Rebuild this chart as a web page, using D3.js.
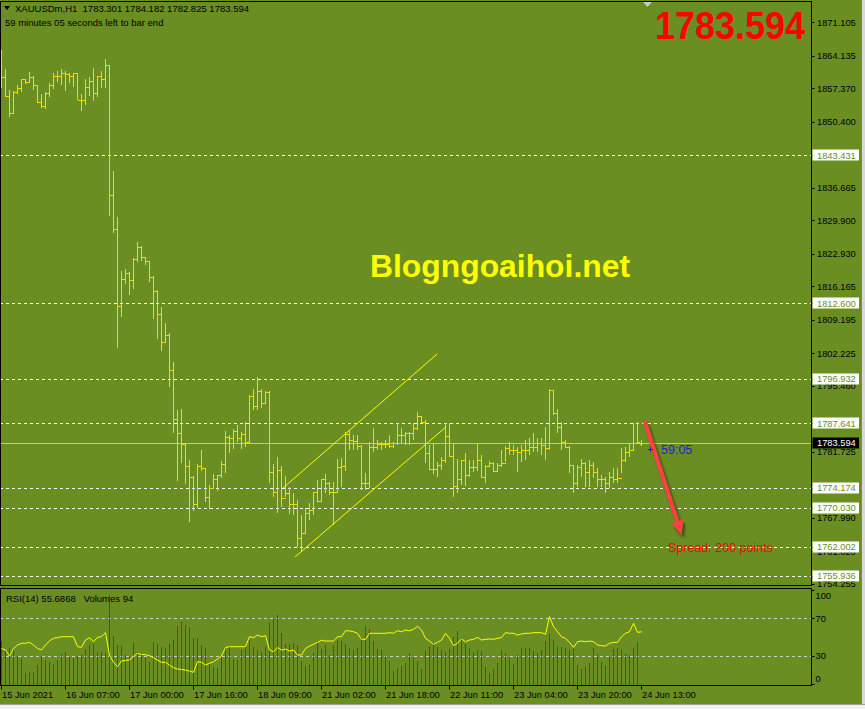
<!DOCTYPE html>
<html><head><meta charset="utf-8">
<script src="https://cdn.jsdelivr.net/npm/d3@7"></script>
<style>html,body{margin:0;padding:0;background:#6b8e23;overflow:hidden}</style>
</head><body><svg id="c" width="865" height="709"></svg>
<script>
// ---------------- DATA ----------------
const headerLine1 = "XAUUSDm,H1  1783.301 1784.182 1782.825 1783.594";
const headerLine2 = "59 minutes 05 seconds left to bar end";
const bigPrice = "1783.594";
const watermark = "Blogngoaihoi.net";
const timerText = "59:05";
const spreadText = "Spread: 200 points";
const rsiHeader = "RSI(14) 55.6868   Volumes 94";

const opens = [1862.00,1859.66,1855.71,1852.23,1856.60,1857.37,1859.25,1858.75,1859.66,1858.00,
1854.46,1853.63,1856.40,1858.00,1859.93,1859.93,1860.50,1860.29,1859.93,1860.50,
1855.00,1854.88,1857.58,1858.83,1856.40,1859.93,1859.25,1862.16,1835.11,1828.10,
1812.07,1817.63,1818.88,1817.42,1821.85,1824.29,1822.21,1821.37,1818.17,1815.13,
1810.34,1804.64,1806.04,1798.69,1788.49,1785.58,1783.31,1778.77,1776.38,1770.80,
1778.77,1778.30,1772.39,1774.13,1776.07,1776.90,1779.19,1784.75,1784.54,1786.12,
1784.54,1785.43,1783.83,1793.40,1791.32,1794.44,1791.82,1794.17,1777.46,1773.30,
1778.01,1772.12,1773.09,1770.87,1770.87,1763.79,1764.77,1768.93,1769.62,1773.30,
1771.55,1776.07,1775.17,1773.43,1773.43,1778.57,1778.67,1785.43,1784.19,1784.04,
1783.00,1775.17,1775.17,1782.73,1782.79,1783.29,1783.29,1783.29,1783.00,1783.50,
1785.23,1785.23,1785.58,1785.58,1786.62,1789.18,1787.99,1781.42,1778.09,1778.09,
1778.98,1780.02,1785.02,1780.86,1774.61,1776.01,1780.02,1776.90,1778.50,1778.50,
1780.02,1776.42,1778.77,1779.34,1777.80,1778.98,1779.34,1782.46,1782.10,1782.10,
1781.75,1782.10,1782.10,1782.79,1782.79,1783.50,1783.15,1782.46,1794.59,1789.74,
1786.95,1783.83,1782.79,1778.98,1775.30,1778.63,1779.46,1777.59,1778.98,1777.59,
1776.01,1776.01,1775.17,1776.55,1776.11,1776.25,1780.02,1781.75,1782.10,1783.50,
1783.301];
const highs = [1865.34,1861.39,1857.02,1856.81,1858.06,1859.31,1859.31,1860.77,1859.93,1858.06,
1856.19,1856.60,1858.54,1860.56,1860.97,1861.39,1860.97,1860.50,1860.56,1860.56,
1856.19,1859.31,1859.79,1861.60,1859.93,1860.97,1863.47,1862.16,1840.16,1830.53,
1819.35,1819.77,1819.08,1822.12,1825.39,1824.56,1822.21,1821.44,1818.31,1815.40,
1811.86,1808.53,1806.45,1800.42,1790.43,1790.64,1783.50,1780.02,1776.63,1779.19,
1782.10,1778.30,1774.76,1777.11,1776.90,1779.82,1786.12,1785.23,1786.48,1787.24,
1785.85,1787.87,1793.61,1794.80,1797.36,1794.86,1794.44,1794.38,1779.13,1780.71,
1778.77,1776.69,1774.34,1773.16,1771.70,1768.58,1769.97,1771.01,1773.36,1775.86,
1776.13,1777.17,1775.45,1775.51,1780.23,1780.38,1785.91,1786.27,1785.23,1785.23,
1783.15,1777.26,1783.83,1786.62,1784.19,1783.83,1784.19,1785.23,1783.83,1787.79,
1786.62,1785.91,1785.91,1787.66,1790.08,1789.18,1788.35,1783.15,1783.50,1779.67,
1780.71,1787.79,1787.66,1783.35,1780.17,1780.02,1781.42,1780.02,1780.02,1783.50,
1781.06,1778.98,1779.88,1779.67,1779.34,1782.10,1782.94,1783.83,1783.15,1782.79,
1783.15,1784.19,1784.54,1785.58,1784.54,1784.54,1786.95,1794.74,1794.59,1790.57,
1787.99,1784.19,1782.94,1778.98,1778.98,1780.17,1779.67,1780.02,1779.67,1778.29,
1776.90,1776.55,1777.59,1778.29,1778.29,1782.46,1782.79,1783.62,1787.79,1787.99,
1784.182];
const lows = [1857.50,1855.63,1851.46,1852.17,1856.13,1856.67,1858.21,1858.54,1857.02,1854.38,
1853.34,1853.07,1855.63,1857.23,1858.69,1858.12,1856.81,1858.54,1857.65,1854.88,
1852.71,1853.90,1855.77,1854.79,1855.50,1857.50,1857.50,1830.86,1827.20,1803.39,
1809.84,1816.71,1814.42,1815.67,1821.29,1821.50,1820.60,1817.13,1809.43,1805.27,
1802.77,1804.43,1795.28,1785.70,1775.72,1779.30,1774.93,1767.18,1769.47,1770.04,
1777.73,1771.35,1769.76,1774.13,1773.64,1776.22,1777.38,1781.54,1782.25,1783.71,
1782.25,1782.79,1783.83,1790.43,1790.43,1790.78,1791.60,1775.30,1772.39,1769.06,
1770.31,1772.39,1768.72,1768.58,1761.98,1760.94,1764.77,1767.54,1768.58,1771.35,
1771.49,1773.09,1772.74,1766.50,1773.22,1774.40,1777.80,1782.10,1782.10,1782.10,
1773.78,1773.78,1774.20,1781.75,1782.10,1782.10,1782.46,1782.46,1782.46,1783.15,
1783.50,1783.15,1783.15,1784.19,1786.27,1787.66,1779.46,1777.94,1777.11,1776.55,
1777.94,1779.46,1780.71,1772.39,1773.09,1774.82,1774.61,1776.55,1777.59,1777.80,
1776.22,1775.17,1778.63,1777.59,1777.59,1778.63,1779.67,1781.06,1781.06,1777.59,
1779.67,1780.02,1781.06,1781.75,1781.75,1781.06,1780.02,1782.10,1789.39,1785.58,
1782.10,1782.46,1777.26,1773.22,1774.47,1776.55,1774.34,1774.47,1776.22,1774.47,
1774.47,1773.09,1774.13,1775.17,1775.17,1777.26,1779.67,1780.71,1782.10,1783.50,
1782.825];
const closes = [1859.66,1855.71,1852.23,1856.60,1857.37,1859.25,1858.75,1859.66,1858.00,1854.46,
1853.63,1856.40,1858.00,1859.93,1859.93,1860.50,1860.29,1859.93,1860.50,1855.00,
1854.88,1857.58,1858.83,1856.40,1859.93,1859.25,1862.16,1835.11,1828.10,1812.07,
1817.63,1818.88,1817.42,1821.85,1824.29,1822.21,1821.37,1818.17,1815.13,1810.34,
1804.64,1806.04,1798.69,1788.49,1785.58,1783.31,1778.77,1776.38,1770.80,1778.77,
1778.30,1772.39,1774.13,1776.07,1776.90,1779.19,1784.75,1784.54,1786.12,1784.54,
1785.43,1783.83,1793.40,1791.32,1794.44,1791.82,1794.17,1777.46,1773.30,1778.01,
1772.12,1773.09,1770.87,1770.87,1763.79,1764.77,1768.93,1769.62,1773.30,1771.55,
1776.07,1775.17,1773.43,1773.43,1778.57,1778.67,1785.43,1784.19,1784.04,1783.00,
1775.17,1775.17,1782.73,1782.79,1783.29,1783.29,1783.29,1783.00,1783.50,1785.23,
1785.23,1785.58,1785.58,1786.62,1789.18,1787.99,1781.42,1778.09,1778.09,1778.98,
1780.02,1785.02,1780.86,1774.61,1776.01,1780.02,1776.90,1778.50,1778.50,1780.02,
1776.42,1778.77,1779.34,1777.80,1778.98,1779.34,1782.46,1782.10,1782.10,1781.75,
1782.10,1782.10,1782.79,1782.79,1783.50,1783.15,1782.46,1794.59,1789.74,1786.95,
1783.83,1782.79,1778.98,1775.30,1778.63,1779.46,1777.59,1778.98,1777.59,1776.01,
1776.01,1775.17,1776.55,1776.11,1776.25,1780.02,1781.75,1782.10,1783.50,1783.83,
1783.594];
const rsiValues = [38,36.4,30,38,41.7,43.5,43.5,44.5,41.7,38,
36.4,41.7,46,48.8,49.5,50.5,50.5,50.5,50.5,40,
39.2,47,49.5,45.2,49.8,50.5,54.8,31,23.3,18.7,
24.7,25.4,25.7,30,32.8,31.8,31.4,30.4,28.2,25.7,
23.3,23.3,20.4,17.6,16.2,15.8,15.1,14.1,12.7,24,
23.3,20.4,22.2,24,26.8,30,38.9,39.9,39.9,39.9,
39.9,39.9,50.5,49.5,52.3,50.5,51.6,36.4,34.6,38.9,
36.4,37.4,35.3,36.4,31,31,38,40.6,42.4,44.5,
46.6,45.9,45.9,45.9,50.5,50.5,56.9,56.6,55.8,54.1,
47.7,47.7,54.1,54.1,54.1,54.1,54.1,54.8,54.1,56.9,
55.8,57.6,56.9,58.3,61.5,57.6,48.8,45.9,42.4,44.5,
47,54.1,48.8,41,43.5,48.1,45.2,47,47.7,49.8,
47,47.7,48.1,47.7,48.8,49.5,54.8,54.1,54.1,52.3,
53.4,54.1,54.1,54.8,54.8,54.8,53,71.8,61.2,55.8,
50.5,48.8,44.5,39.2,45.2,45.9,45.2,45.9,45.2,41.7,
41,40.6,43.5,44.5,44.5,50.5,54.1,55.8,64.7,55.1,
55.6868];
const volumes = [3168,2520,2640,2520,2112,1872,840,912,960,1440,
2112,1800,1680,1488,1800,2208,2352,2040,1968,2088,
2160,2592,2880,2928,2400,2352,2280,6480,3552,2880,
2832,2160,2112,3048,2400,2280,2040,1680,3072,2928,
2760,2640,2928,3240,4272,4512,4320,4200,3408,3360,
2880,2640,1488,1320,1200,2040,2640,2808,1872,1800,
2520,2760,3240,2760,2520,2400,2760,4512,4752,5040,
3720,2928,2976,3024,2880,1728,1392,1440,2280,3072,
2592,2880,2160,2880,3240,3168,2928,2688,2520,2688,
3480,4248,4032,3168,2592,2520,2112,1728,1008,1248,
1392,1560,2280,1968,1752,1152,2448,2832,3000,2760,
2520,2400,2592,3480,3912,3408,2928,2640,2400,2520,
2472,1320,840,1152,1560,2520,2280,1968,1488,2160,
2640,2688,2640,2448,2280,2520,3168,3648,3240,2808,
2736,2640,2520,2568,1440,1152,1320,1560,2640,2208,
1632,1392,2040,2592,2688,2520,2208,2160,2688,3120,
94];
const timeLabels = ["15 Jun 2021","16 Jun 07:00","17 Jun 00:00","17 Jun 16:00","18 Jun 09:00",
"21 Jun 02:00","21 Jun 18:00","22 Jun 11:00","23 Jun 04:00","23 Jun 20:00","24 Jun 13:00"];
const timeLabelBars = [0,16,32,48,64,80,96,112,128,144,160];
// axis grid prices (those fully hidden behind level boxes are not labelled)
const priceTicks = [1871.105,1864.135,1857.370,1850.400,1843.430,1836.665,1829.900,1822.930,1816.165,
1809.195,1802.225,1795.460,1788.490,1781.725,1774.955,1767.990,1761.020,1754.255];
const hiddenTickLabels = [1843.430,1788.490,1774.955];
const levelLines = [1843.431,1812.600,1796.932,1787.641,1774.174,1770.030,1762.002,1755.936];
const currentPrice = 1783.594;
const rsiLevels = [70,30];
const rsiTicks = [100,70,30,0];
const channelUpper = [{bar:70.4,price:1774.19},{bar:108.9,price:1802.07}];
const channelLower = [{bar:73.4,price:1759.83},{bar:111.1,price:1786.88}];
const arrowPts = [{bar:160.9,price:1787.78},{bar:170.05,price:1764.40}];

// ---------------- DRAW ----------------
const svg = d3.select("#c");
const FONT = "'Liberation Sans', Arial, sans-serif";
const AX = 811.5;
const MAIN_TOP = 1.5, MAIN_BOT = 585.5, RSI_TOP = 588.5, RSI_BOT = 685.5;

const x = d3.scaleLinear().domain([0,160]).range([1.5,641.5]);
const y = d3.scaleLinear().domain([1754.255,1871.105]).range([583.76,22.3]);
const yR = d3.scaleLinear().domain([0,100]).range([684.3,590.05]);
const yV = d3.scaleLinear().domain([0,6850]).range([685,590]);

svg.append("rect").attr("width",865).attr("height",709).attr("fill","#6b8e23");
svg.append("rect").attr("x",861).attr("y",0).attr("width",4).attr("height",709).attr("fill","#d8d8d8");
svg.append("line").attr("x1",861.5).attr("x2",861.5).attr("y1",0).attr("y2",709).attr("stroke","#808080");
svg.append("rect").attr("x",0).attr("y",705).attr("width",865).attr("height",4).attr("fill","#f0f0f0");
svg.append("line").attr("x1",0).attr("x2",865).attr("y1",704.5).attr("y2",704.5).attr("stroke","#a0a0a0");

const defs = svg.append("defs");
defs.append("clipPath").attr("id","mainClip").append("rect")
  .attr("x",1).attr("y",2).attr("width",AX-1).attr("height",MAIN_BOT-2);
defs.append("clipPath").attr("id","rsiClip").append("rect")
  .attr("x",1).attr("y",RSI_TOP+0.5).attr("width",AX-1).attr("height",RSI_BOT-RSI_TOP-1);
const sh = defs.append("filter").attr("id","shadow").attr("x","-50%").attr("y","-50%").attr("width","200%").attr("height","200%");
sh.append("feDropShadow").attr("dx",2).attr("dy",3).attr("stdDeviation",1.6).attr("flood-color","#000").attr("flood-opacity",0.55);

const main = svg.append("g").attr("clip-path","url(#mainClip)");

main.selectAll("line.lvl").data(levelLines).join("line")
  .attr("x1",0).attr("x2",AX).attr("y1",d=>Math.round(y(d))+0.5).attr("y2",d=>Math.round(y(d))+0.5)
  .attr("stroke","#ffffff").attr("stroke-dasharray","3,3");
main.append("line").attr("x1",0).attr("x2",AX)
  .attr("y1",Math.round(y(currentPrice))+0.5).attr("y2",Math.round(y(currentPrice))+0.5)
  .attr("stroke","#c0c0c0");

const idx = d3.range(closes.length);
main.append("g").selectAll("path").data(idx).join("path")
  .attr("d", i => {
    const xi = x(i), yh = Math.round(y(highs[i])), yl = Math.round(y(lows[i]));
    const yo = Math.round(y(opens[i]))+0.5, yc = Math.round(y(closes[i]))+0.5;
    return `M${xi},${yh}V${Math.max(yl,yh+1)}M${xi-2},${yo}H${xi}M${xi},${yc}H${xi+2}`;
  })
  .attr("stroke","#ffd700").attr("stroke-width",1).attr("fill","none").attr("shape-rendering","crispEdges");

[channelUpper, channelLower].forEach(c => {
  main.append("line").attr("x1",x(c[0].bar)).attr("y1",y(c[0].price))
    .attr("x2",x(c[1].bar)).attr("y2",y(c[1].price))
    .attr("stroke","#ffff00").attr("stroke-width",1);
});

main.append("text").attr("x",370).attr("y",277).text(watermark)
  .attr("font-family",FONT).attr("font-weight","bold").attr("font-size",31.5).attr("fill","#ffff00")
  .attr("textLength",260).attr("lengthAdjust","spacingAndGlyphs");

{
  const x1 = x(arrowPts[0].bar), y1 = y(arrowPts[0].price), x2 = x(arrowPts[1].bar), y2 = y(arrowPts[1].price);
  const ang = Math.atan2(y2-y1, x2-x1), L = 14, Wd = 6;
  const bx = x2 - L*Math.cos(ang), by = y2 - L*Math.sin(ang);
  const g = main.append("g").attr("filter","url(#shadow)");
  g.append("line").attr("x1",x1).attr("y1",y1).attr("x2",bx).attr("y2",by)
    .attr("stroke","#ff4040").attr("stroke-width",4).attr("stroke-linecap","round");
  const px = -Math.sin(ang)*Wd, py = Math.cos(ang)*Wd;
  g.append("path").attr("d",`M${x2},${y2}L${bx+px},${by+py}L${bx-px},${by-py}Z`).attr("fill","#ff4040");
}
main.append("text").attr("x",668).attr("y",552).text(spreadText)
  .attr("font-family",FONT).attr("font-size",12.5).attr("fill","#ff0000");
{
  const tx = x(160)+8.5, ty = Math.round(y(currentPrice))+6;
  main.append("path").attr("d",`M${tx-2.5},${ty}.5H${tx+2.5}M${tx},${ty-2.5}V${ty+2.5}`)
    .attr("stroke","#2020c8").attr("shape-rendering","crispEdges");
  main.append("text").attr("x",661).attr("y",454).text(timerText)
    .attr("font-family",FONT).attr("font-size",12.5).attr("fill","#1e1ed2");
}
main.append("text").attr("x",655).attr("y",38.5).text(bigPrice)
  .attr("font-family",FONT).attr("font-weight","bold").attr("font-size",38).attr("fill","#ff0000")
  .attr("textLength",150).attr("lengthAdjust","spacingAndGlyphs");
main.append("path").attr("d","M643,2L652,2L647.5,7Z").attr("fill","#c8c8c8");

main.append("path").attr("d","M4,6L10,6L7,10Z").attr("fill","#000");
main.append("text").attr("x",15).attr("y",12.3).text(headerLine1)
  .attr("font-family",FONT).attr("font-size",9.5).attr("fill","#000").style("white-space","pre");
main.append("text").attr("x",5).attr("y",25.5).text(headerLine2)
  .attr("font-family",FONT).attr("font-size",9.5).attr("fill","#000");

svg.append("rect").attr("x",0.5).attr("y",MAIN_TOP).attr("width",AX-0.5).attr("height",MAIN_BOT-MAIN_TOP)
  .attr("fill","none").attr("stroke","#000");

const pa = svg.append("g");
pa.selectAll("line").data(priceTicks).join("line")
  .attr("x1",AX).attr("x2",AX+3).attr("y1",d=>Math.round(y(d))+0.5).attr("y2",d=>Math.round(y(d))+0.5)
  .attr("stroke","#000");
pa.selectAll("text").data(priceTicks.filter(d=>!hiddenTickLabels.includes(d))).join("text")
  .attr("x",817).attr("y",d=>y(d)+3.4).text(d=>d.toFixed(3))
  .attr("font-family",FONT).attr("font-size",9.3).attr("fill","#000");

const ll = svg.append("g");
ll.selectAll("line").data(levelLines).join("line")
  .attr("x1",AX).attr("x2",AX+3).attr("y1",d=>Math.round(y(d))+0.5).attr("y2",d=>Math.round(y(d))+0.5)
  .attr("stroke","#000");
ll.selectAll("rect").data(levelLines).join("rect")
  .attr("x",812.5).attr("y",d=>Math.round(y(d))-5.5).attr("width",46.5).attr("height",11)
  .attr("fill","#ffffff");
ll.selectAll("text").data(levelLines).join("text")
  .attr("x",817).attr("y",d=>y(d)+3.4).text(d=>d.toFixed(3))
  .attr("font-family",FONT).attr("font-size",9.3).attr("fill","#6b8e23");
svg.append("rect").attr("x",812.5).attr("y",Math.round(y(currentPrice))-5.5).attr("width",46.5).attr("height",11).attr("fill","#000");
svg.append("text").attr("x",817).attr("y",y(currentPrice)+3.4).text(currentPrice.toFixed(3))
  .attr("font-family",FONT).attr("font-size",9.3).attr("fill","#fff");

// ---------------- RSI / VOLUMES PANE ----------------
const rp = svg.append("g").attr("clip-path","url(#rsiClip)");
rp.selectAll("line.lv").data(rsiLevels).join("line")
  .attr("x1",0).attr("x2",AX).attr("y1",d=>Math.round(yR(d))+0.5).attr("y2",d=>Math.round(yR(d))+0.5)
  .attr("stroke","#d0d0d0").attr("stroke-dasharray","3,3");
rp.append("g").selectAll("line").data(idx).join("line")
  .attr("x1",i=>x(i)).attr("x2",i=>x(i)).attr("y1",yV(0)).attr("y2",i=>yV(volumes[i]))
  .attr("stroke",i=> (i===0 || volumes[i] > volumes[i-1]) ? "#008000" : "#ff0000")
  .attr("shape-rendering","crispEdges");
rp.append("path").datum(idx)
  .attr("d", d3.line().x(i=>x(i)).y(i=>yR(rsiValues[i])))
  .attr("fill","none").attr("stroke","#ffff00").attr("stroke-width",1);
rp.append("text").attr("x",6).attr("y",601.5).text(rsiHeader).style("white-space","pre")
  .attr("font-family",FONT).attr("font-size",9.5).attr("fill","#000");

svg.append("rect").attr("x",0.5).attr("y",RSI_TOP).attr("width",AX-0.5).attr("height",RSI_BOT-RSI_TOP)
  .attr("fill","none").attr("stroke","#000");
const rsiLabelY = {100:598.5, 70:621.7, 30:659.4, 0:682};
svg.append("g").selectAll("line").data(rsiTicks).join("line")
  .attr("x1",AX).attr("x2",AX+3).attr("y1",d=>Math.round(yR(d))+0.5).attr("y2",d=>Math.round(yR(d))+0.5)
  .attr("stroke","#000");
svg.append("g").selectAll("text").data(rsiTicks).join("text")
  .attr("x",815.5).attr("y",d=>rsiLabelY[d]).text(d=>d)
  .attr("font-family",FONT).attr("font-size",9.3).attr("fill","#000");

const ta = svg.append("g");
ta.selectAll("line").data(timeLabelBars).join("line")
  .attr("x1",d=>x(d)).attr("x2",d=>x(d)).attr("y1",RSI_BOT).attr("y2",RSI_BOT+4)
  .attr("stroke","#000");
ta.selectAll("text").data(timeLabelBars).join("text")
  .attr("x",d=>x(d)+0.5).attr("y",697.5).text((d,i)=>timeLabels[i])
  .attr("font-family",FONT).attr("font-size",9.3).attr("fill","#000");
</script></body></html>
